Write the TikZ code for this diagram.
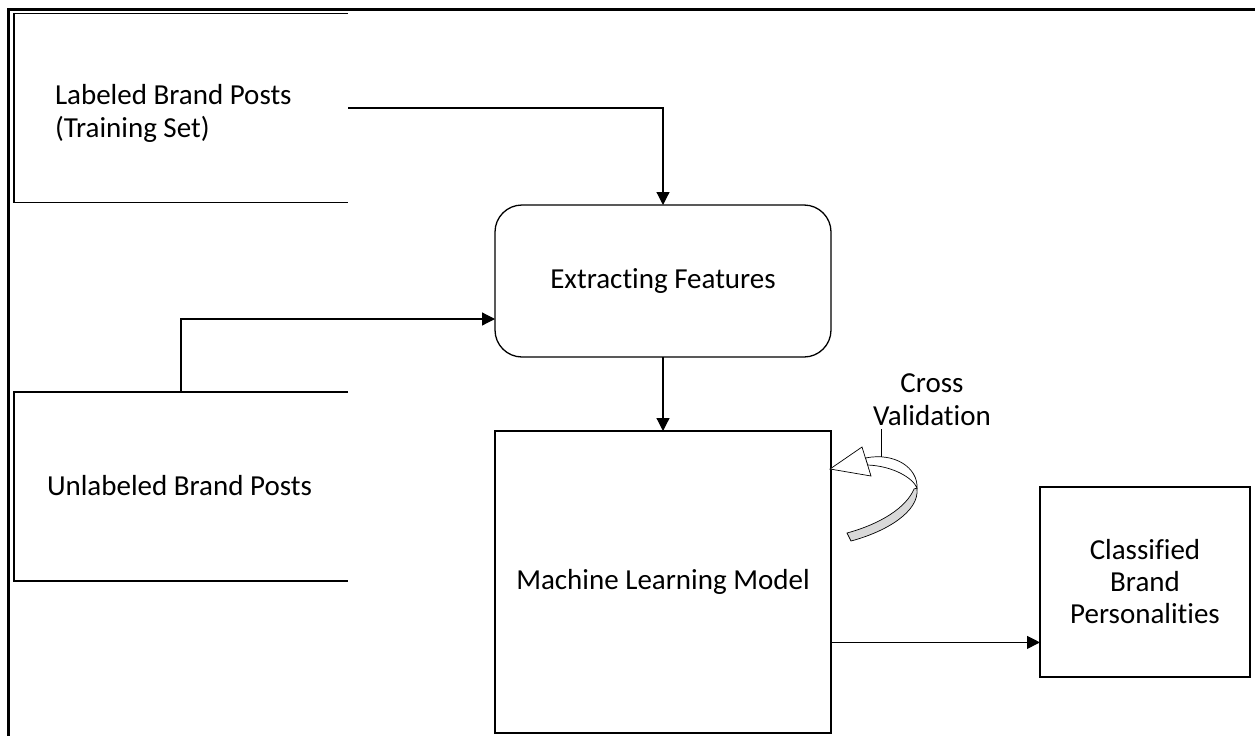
\documentclass[tikz,border=0pt]{standalone}
\usepackage{fontspec}
\setmainfont{Carlito}[Ligatures=CommonOff]
\usetikzlibrary{arrows.meta,calc}

\begin{document}
\begin{tikzpicture}[x=1pt,y=-1pt,
  every node/.style={font=\fontsize{29}{33}\selectfont, inner sep=0pt, outer sep=0pt},
  edge line/.style={line width=1.3pt},
  conn/.style={line width=1.2pt, -{Triangle[length=13pt,width=13pt]}},
  openbox/.style={draw=none, minimum width=334pt, minimum height=189pt},
  procbox/.style={draw, line width=1.3pt, align=center},
  ribbon/.style={line width=0.7pt}
]
% page extent
\useasboundingbox (0,0) rectangle (1255,736);

% frame along the top and left edges
\draw[line width=3pt] (1255,9) -- (8,9) -- (8,736);

% input boxes, open on the right
\node[openbox] (lab) at (181,108) {};
\draw[edge line] (lab.north east) -- (lab.north west) -- (lab.south west) -- (lab.south east);
\node[anchor=west, align=left] (labtxt) at (55,113) {Labeled Brand Posts\\(Training Set)};

\node[openbox] (unl) at (181,486.5) {};
\draw[edge line] (unl.north east) -- (unl.north west) -- (unl.south west) -- (unl.south east);
\node[anchor=base west] (unltxt) at (47,495) {Unlabeled Brand Posts};

% processing steps
\node[procbox, rounded corners=27pt, minimum width=336pt, minimum height=152pt] (ext) at (663,281) {Extracting Features};
\node[procbox, minimum width=336pt, minimum height=302pt] (ml) at (663,582) {Machine Learning Model};
\node[procbox, minimum width=210pt, minimum height=190pt] (cls) at (1145,582) {Classified\\[-1pt]Brand\\[-1pt]Personalities};

% connectors
\draw[conn] (lab.east) -| (ext.north);
\coordinate (extin) at ($(ext.south west)!0.25!(ext.north west)$);
\draw[conn] (unl.north) |- (extin);
\draw[conn] (ext.south) -- (ml.north);
\coordinate (mlout) at ($(ml.south east)!0.3!(ml.north east)$);
\draw[conn] (mlout) -- (mlout -| cls.west);

% cross validation loop arrow: grey underside, white upper face, open head
\filldraw[fill=black!15, draw=black, ribbon] (914,489) .. controls (906,508) and (880,524) .. (847,533)
  -- (851,541) .. controls (885,532) and (920,512) .. (917,488) -- cycle;
\filldraw[fill=white, draw=black, ribbon] (865.4,458) .. controls (895,452) and (918,468) .. (917,488)
  .. controls (913,478) and (893,466) .. (867.6,465) -- cycle;
\filldraw[fill=white, draw=black, ribbon] (830,469) -- (862,447) -- (871,476) -- cycle;

\node[anchor=base, align=center] (cvtxt) at (932,425) {Cross\\Validation};
\coordinate (cvtop) at (881,429);
\coordinate (cvfoot) at (881,457);
\draw[line width=1pt] (cvtop) -- (cvfoot);
\end{tikzpicture}
\end{document}
